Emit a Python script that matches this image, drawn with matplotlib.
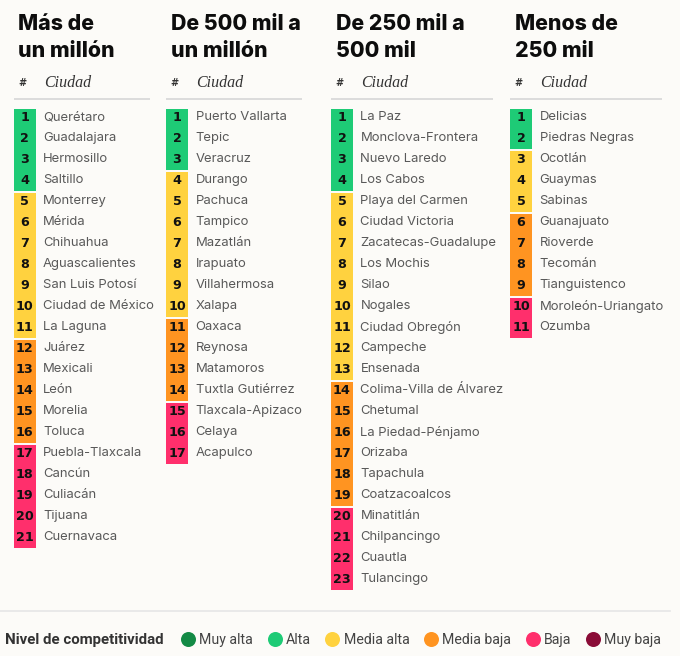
import matplotlib.pyplot as plt
from matplotlib.lines import Line2D

# --- datos ---
titulos = [["Más de", "un millón"],
           ["De 500 mil a", "un millón"],
           ["De 250 mil a", "500 mil"],
           ["Menos de", "250 mil"]]

ciudades_1 = ["Querétaro", "Guadalajara", "Hermosillo", "Saltillo", "Monterrey",
              "Mérida", "Chihuahua", "Aguascalientes", "San Luis Potosí",
              "Ciudad de México", "La Laguna", "Juárez", "Mexicali", "León",
              "Morelia", "Toluca", "Puebla-Tlaxcala", "Cancún", "Culiacán",
              "Tijuana", "Cuernavaca"]
niveles_1 = [4, 7, 5, 5]  # Alta, Media alta, Media baja, Baja

ciudades_2 = ["Puerto Vallarta", "Tepic", "Veracruz", "Durango", "Pachuca",
              "Tampico", "Mazatlán", "Irapuato", "Villahermosa", "Xalapa",
              "Oaxaca", "Reynosa", "Matamoros", "Tuxtla Gutiérrez",
              "Tlaxcala-Apizaco", "Celaya", "Acapulco"]
niveles_2 = [3, 7, 4, 3]

ciudades_3 = ["La Paz", "Monclova-Frontera", "Nuevo Laredo", "Los Cabos",
              "Playa del Carmen", "Ciudad Victoria", "Zacatecas-Guadalupe",
              "Los Mochis", "Silao", "Nogales", "Ciudad Obregón", "Campeche",
              "Ensenada", "Colima-Villa de Álvarez", "Chetumal",
              "La Piedad-Pénjamo", "Orizaba", "Tapachula", "Coatzacoalcos",
              "Minatitlán", "Chilpancingo", "Cuautla", "Tulancingo"]
niveles_3 = [4, 9, 6, 4]

ciudades_4 = ["Delicias", "Piedras Negras", "Ocotlán", "Guaymas", "Sabinas",
              "Guanajuato", "Rioverde", "Tecomán", "Tianguistenco",
              "Moroleón-Uriangato", "Ozumba"]
niveles_4 = [2, 3, 4, 2]

nombres_nivel = ["Muy alta", "Alta", "Media alta", "Media baja", "Baja", "Muy baja"]
colores_nivel = ["#138a45", "#1ecb76", "#ffd23f", "#ff9421", "#ff2f6c", "#8a0c37"]
niveles_usados = ["Alta", "Media alta", "Media baja", "Baja"]

columnas = [(ciudades_1, niveles_1), (ciudades_2, niveles_2),
            (ciudades_3, niveles_3), (ciudades_4, niveles_4)]

# --- layout (pixeles) ---
fondo = "#fcfbf8"
x_caja = [13.5, 166, 331, 510]
x_fin_linea = [150, 302, 493, 662]
ancho_caja = 22
y_top = 108.5
paso = 21

fig = plt.figure(figsize=(6.8, 6.56), dpi=100, facecolor=fondo)
ax = fig.add_axes([0, 0, 1, 1])
ax.set_facecolor(fondo)
ax.set_xlim(0, 680)
ax.set_ylim(656, 0)
ax.axis("off")

color_de = dict(zip(nombres_nivel, colores_nivel))

for k, (ciudades, niveles) in enumerate(columnas):
    x0 = x_caja[k]
    # titulo
    ax.text(x0 + 5, 30, titulos[k][0], fontsize=15.3, fontweight="heavy",
            family="Inter", color="#0d0d0d", va="baseline")
    ax.text(x0 + 5, 57, titulos[k][1], fontsize=15.3, fontweight="heavy",
            family="Inter", color="#0d0d0d", va="baseline")
    # encabezado
    ax.text(x0 + 8.5, 86, "#", fontsize=7, fontweight="bold", color="#333333",
            ha="center", va="baseline", family="DejaVu Sans")
    ax.text(x0 + 30.5, 87, "Ciudad", fontsize=11.5, style="italic",
            family="Liberation Serif", color="#333333", va="baseline")
    ax.plot([x0, x_fin_linea[k]], [99.3, 99.3], color="#dcdcdc", lw=1.4,
            solid_capstyle="butt")

    # cajas por grupo de nivel
    inicio = 0
    for nivel, n in zip(niveles_usados, niveles):
        ax.bar(x0, n * paso - 1.6, bottom=y_top + inicio * paso, width=ancho_caja,
               align="edge", color=color_de[nivel], linewidth=0)
        inicio += n

    # filas
    for i, ciudad in enumerate(ciudades):
        yc = y_top + (i + 0.5) * paso - 1.6
        ax.text(x0 + ancho_caja / 2, yc, str(i + 1), fontsize=9.2, fontweight="bold",
                family="DejaVu Sans", color="#111111", ha="center", va="center")
        ax.text(x0 + 29.5, yc, ciudad, fontsize=9.4, family="Inter",
                color="#595959", va="center")

# linea inferior y leyenda
ax.plot([0, 670], [610.5, 610.5], color="#e6e6e6", lw=1.2)
ax.text(5, 640, "Nivel de competitividad", fontsize=10.8, fontweight="bold",
        family="Roboto", color="#333333", va="center")

manijas = [Line2D([], [], marker="o", linestyle="none", markersize=10.8,
                  markerfacecolor=c, markeredgewidth=0) for c in colores_nivel]
ley = ax.legend(manijas, nombres_nivel, ncol=6, frameon=False,
                loc="center left", bbox_to_anchor=(179.5 / 680, 1 - 640 / 656),
                handletextpad=0.18, columnspacing=0.94, handlelength=1.2,
                borderaxespad=0, borderpad=0,
                prop={"family": "Roboto", "size": 10.2})
for t in ley.get_texts():
    t.set_color("#444444")

fig.savefig("out.png", dpi=100, facecolor=fondo)
